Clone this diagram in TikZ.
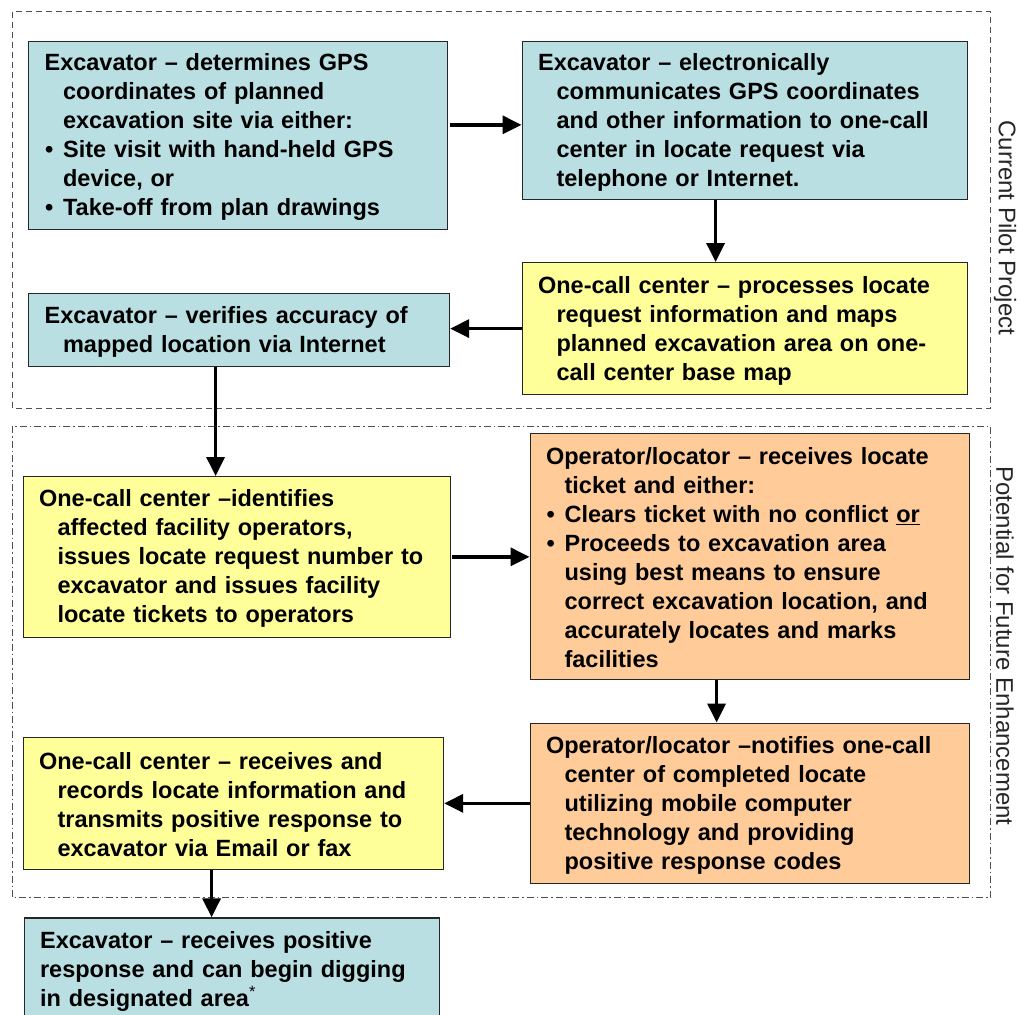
\documentclass[tikz,border=0pt]{standalone}
\usepackage{fontspec}
\setmainfont{Liberation Sans}
\usepackage{tikz}
\usetikzlibrary{arrows.meta,positioning,calc}
\definecolor{Ink}{HTML}{262626}
\definecolor{FrameGray}{HTML}{505050}
\definecolor{Teal}{HTML}{B9DFE3}
\definecolor{Lemon}{HTML}{FFFF99}
\definecolor{Peach}{HTML}{FFCC99}
\newcommand{\ind}{\hspace*{18.5bp}}
\newcommand{\bul}{\makebox[18.5bp][l]{\hspace*{0.5bp}•}}
\newcommand{\vstrut}{\rule[-1.5bp]{0pt}{22.5bp}}

\begin{document}
\begin{tikzpicture}[x=1bp,y=-1bp,
    stepbox/.style={draw=Ink,line width=1.2bp,anchor=north west,align=left,
      inner xsep=16bp,inner ysep=0bp,
      font=\bfseries\fontsize{23.5bp}{29bp}\selectfont},
    flow/.style={line width=3.5bp,-{Triangle[length=19bp,width=18bp]}},
    sidelabel/.style={rotate=-90,font=\fontsize{24bp}{27bp}\selectfont,text=Ink}]
        \useasboundingbox (0,0) rectangle (1023,1015);
        \clip (0,0) rectangle (1023,1015);
        \fill[white] (0,0) rectangle (1023,1015);
        % the two phases
        \draw[FrameGray,line width=1bp,dash pattern=on 6bp off 4bp]
              (12.3,11.7) rectangle (990.7,408);
        \draw[FrameGray,line width=1bp,dash pattern=on 7bp off 3bp on 1.5bp off 3bp]
              (12.3,426) rectangle (990.7,897.7);
        \node[sidelabel] (pilot) at (1005,228) {Current Pilot Project};
        \node[sidelabel] (future) at (1005,646) {Potential for Future Enhancement};
        % steps
        \node[stepbox,fill=Teal,text width=387bp,minimum height=188.5bp] (gps) at (28,40.5)
              {\vstrut Excavator – determines GPS\\ \ind coordinates of planned\\ \ind excavation site via either:\\
               \bul Site visit with hand-held GPS\\ \ind device, or\\ \bul Take-off from plan drawings\vstrut};
        \node[stepbox,fill=Teal,text width=413bp,minimum height=158.5bp] (send) at (521.5,40.5)
              {\vstrut Excavator – electronically\\ \ind communicates GPS coordinates\\ \ind and other information to one-call\\
               \ind center in locate request via\\ \ind telephone or Internet.\vstrut};
        \node[stepbox,fill=Lemon,text width=413bp,minimum height=132bp] (process) at (521.5,262)
              {\vstrut One-call center – processes locate\\ \ind request information and maps\\
               \ind planned excavation area on one-\\ \ind call center base map\vstrut};
        \node[stepbox,fill=Teal,text width=389bp,minimum height=73.5bp] (verify) at (28,292.7)
              {\vstrut Excavator – verifies accuracy of\\ \ind mapped location via Internet\vstrut};
        \node[stepbox,fill=Lemon,text width=395.5bp,minimum height=160.5bp] (identify) at (22.5,476)
              {\vstrut One-call center –identifies\\ \ind affected facility operators,\\ \ind issues locate request number to\\
               \ind excavator and issues facility\\ \ind locate tickets to operators\vstrut};
        \node[stepbox,fill=Peach,text width=407bp,minimum height=246bp] (ticket) at (529.5,432.5)
              {\vstrut Operator/locator – receives locate\\ \ind ticket and either:\\ \bul Clears ticket with no conflict \underline{or}\\
               \bul Proceeds to excavation area\\ \ind using best means to ensure\\
               \ind correct excavation location, and\\ \ind accurately locates and marks\\ \ind facilities\vstrut};
        \node[stepbox,fill=Peach,text width=407bp,minimum height=160.5bp] (notify) at (529.5,722.5)
              {\vstrut Operator/locator –notifies one-call\\ \ind center of completed locate\\ \ind utilizing mobile computer\\
               \ind technology and providing\\ \ind positive response codes\vstrut};
        \node[stepbox,fill=Lemon,text width=388.5bp,minimum height=132bp] (record) at (22.5,737)
              {\vstrut One-call center – receives and\\ \ind records locate information and\\
               \ind transmits positive response to\\ \ind excavator via Email or fax\vstrut};
        \node[stepbox,fill=Teal,text width=383bp,minimum height=103.5bp] (dig) at (23.5,917.3)
              {\vstrut Excavator – receives positive\\ response and can begin digging\\ in designated area\textsuperscript{\mdseries*}\vstrut};
        % connectors
        \draw[flow] ([shift={(2,-10.5)}]gps.east) -- ([shift={(0,-10.5)}]gps.east -| send.west);
        \draw[flow] ([xshift=-29bp]send.south) -- ([xshift=-29bp]send.south |- process.north);
        \draw[flow] (process.west) -- (process.west -| verify.east);
        \draw[flow] ([xshift=-23.5bp]verify.south) -- ([xshift=-23.5bp]verify.south |- identify.north);
        \draw[flow] ([xshift=1bp]identify.east) -- (identify.east -| ticket.west);
        \draw[flow] ([xshift=-33bp]ticket.south) -- ([xshift=-33bp]ticket.south |- notify.north);
        \draw[flow] (notify.west) -- (notify.west -| record.east);
        \draw[flow] ([xshift=-21.75bp]record.south) -- ([xshift=-21.75bp]record.south |- dig.north);
\end{tikzpicture}
\end{document}
